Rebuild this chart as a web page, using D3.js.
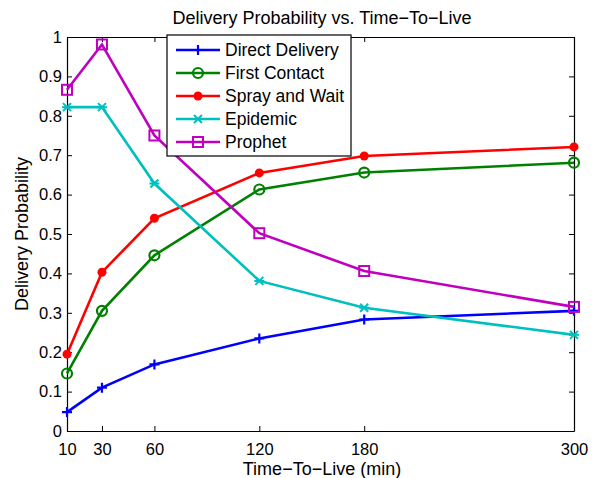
<!DOCTYPE html>
<head>
	<meta charset="utf-8">
	<script src="https://d3js.org/d3.v7.min.js"></script>
	<style>
		body { margin: 0; background: white; }
		text { font-family: "Liberation Sans", Arial, sans-serif; fill: #000; }
	</style>
</head>
<body>
	<script>
		// chart data
		var ttl = [10, 30, 60, 120, 180, 300];
		var seriesNames = ["Direct Delivery", "First Contact", "Spray and Wait", "Epidemic", "Prophet"];
		var directDelivery = [0.048, 0.110, 0.169, 0.235, 0.283, 0.305];
		var firstContact = [0.146, 0.305, 0.446, 0.613, 0.656, 0.681];
		var sprayAndWait = [0.195, 0.403, 0.540, 0.655, 0.698, 0.721];
		var epidemic = [0.822, 0.822, 0.628, 0.381, 0.313, 0.244];
		var prophet = [0.866, 0.981, 0.750, 0.502, 0.406, 0.315];
		var yTicks = [0, 0.1, 0.2, 0.3, 0.4, 0.5, 0.6, 0.7, 0.8, 0.9, 1];

		var colors = ["#0000ff", "#008000", "#ff0000", "#00bfbf", "#bf00bf"];
		var markers = ["plus", "circle", "dot", "star", "square"];
		var allValues = [directDelivery, firstContact, sprayAndWait, epidemic, prophet];

		var w = 599, h = 478;
		var margin = {top: 37, right: 25, bottom: 47, left: 67};
		var iw = w - margin.left - margin.right,
			ih = h - margin.top - margin.bottom;

		var svg = d3.select("body").append("svg")
			.attr("width", w)
			.attr("height", h);

		var g = svg.append("g")
			.attr("transform", "translate(" + margin.left + "," + margin.top + ")");

		var xScale = d3.scaleLinear().domain([10, 300]).range([0, iw]);
		var yScale = d3.scaleLinear().domain([0, 1]).range([ih, 0]);

		// axes (MATLAB style: ticks inward, mirrored)
		var xAxis = d3.axisBottom(xScale).tickValues(ttl).tickSizeInner(-5).tickSizeOuter(0).tickPadding(12.5);
		var yAxis = d3.axisLeft(yScale).tickValues(yTicks).tickSizeInner(-5).tickSizeOuter(0).tickPadding(5)
			.tickFormat(function(d) { return d === 0 || d === 1 ? d : d3.format(".1f")(d); });

		var gx = g.append("g").attr("transform", "translate(0," + ih + ")").call(xAxis);
		var gy = g.append("g").call(yAxis);
		var gxTop = g.append("g").call(d3.axisTop(xScale).tickValues(ttl).tickSizeInner(-5).tickSizeOuter(0).tickFormat(""));
		var gyRight = g.append("g").attr("transform", "translate(" + iw + ",0)")
			.call(d3.axisRight(yScale).tickValues(yTicks).tickSizeInner(-5).tickSizeOuter(0).tickFormat(""));

		[gx, gy, gxTop, gyRight].forEach(function(a) {
			a.select(".domain").attr("stroke", "#000").attr("stroke-width", 1.2);
			a.selectAll(".tick line").attr("stroke", "#000");
			a.selectAll(".tick text").style("font-size", "16.5px").attr("fill", "#000");
		});
		gx.selectAll(".tick text").attr("dy", "0.71em");

		// marker drawing
		function drawMarker(sel, type, color) {
			if (type === "plus") {
				sel.append("path").attr("d", "M-5,0H5M0,-5V5").attr("stroke", color).attr("stroke-width", 2.2).attr("fill", "none");
			} else if (type === "circle") {
				sel.append("circle").attr("r", 5).attr("stroke", color).attr("stroke-width", 2.2).attr("fill", "none");
			} else if (type === "dot") {
				sel.append("circle").attr("r", 4.5).attr("fill", color);
			} else if (type === "star") {
				sel.append("path").attr("d", "M-4,-4L4,4M-4,4L4,-4M-5,0H5").attr("stroke", color).attr("stroke-width", 2).attr("fill", "none");
			} else if (type === "square") {
				sel.append("rect").attr("x", -5).attr("y", -5).attr("width", 10).attr("height", 10)
					.attr("stroke", color).attr("stroke-width", 2).attr("fill", "none");
			}
		}

		var line = d3.line()
			.x(function(d, i) { return xScale(ttl[i]); })
			.y(function(d) { return yScale(d); });

		allValues.forEach(function(vals, k) {
			g.append("path")
				.datum(vals)
				.attr("d", line)
				.attr("fill", "none")
				.attr("stroke", colors[k])
				.attr("stroke-width", 2.6);
			g.selectAll(".m" + k)
				.data(vals)
				.enter()
				.append("g")
				.attr("class", "m" + k)
				.attr("transform", function(d, i) { return "translate(" + xScale(ttl[i]) + "," + yScale(d) + ")"; })
				.each(function() { drawMarker(d3.select(this), markers[k], colors[k]); });
		});

		// legend
		var lg = svg.append("g").attr("transform", "translate(167,35)");
		lg.append("rect").attr("width", 184).attr("height", 121)
			.attr("fill", "white").attr("stroke", "#000").attr("stroke-width", 1.2);
		seriesNames.forEach(function(name, k) {
			var y = 15 + k * 23;
			lg.append("line").attr("x1", 9).attr("x2", 53).attr("y1", y).attr("y2", y)
				.attr("stroke", colors[k]).attr("stroke-width", 2.6);
			drawMarker(lg.append("g").attr("transform", "translate(31," + y + ")"), markers[k], colors[k]);
			lg.append("text").attr("x", 58).attr("y", y).attr("dy", "0.35em")
				.style("font-size", "17.5px").text(name);
		});

		// title and labels
		svg.append("text").attr("x", 322).attr("y", 24).attr("text-anchor", "middle")
			.style("font-size", "18px").text("Delivery Probability vs. Time\u2212To\u2212Live");
		svg.append("text").attr("x", 322).attr("y", 475).attr("text-anchor", "middle")
			.style("font-size", "18px").text("Time\u2212To\u2212Live (min)");
		svg.append("text").attr("transform", "translate(28," + (margin.top + ih / 2) + ") rotate(-90)")
			.attr("text-anchor", "middle").style("font-size", "18px").text("Delivery Probability");
	</script>
</body>
